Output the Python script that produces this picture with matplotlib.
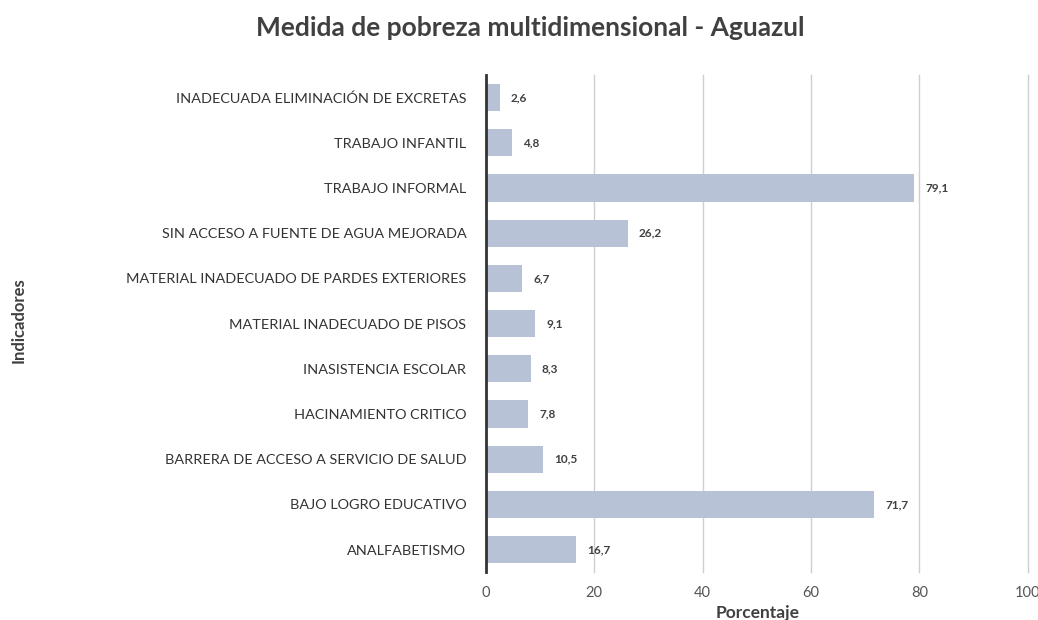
import matplotlib
matplotlib.use("Agg")
import matplotlib.pyplot as plt

categories = [
    "INADECUADA ELIMINACIÓN DE EXCRETAS",
    "TRABAJO INFANTIL",
    "TRABAJO INFORMAL",
    "SIN ACCESO A FUENTE DE AGUA MEJORADA",
    "MATERIAL INADECUADO DE PARDES EXTERIORES",
    "MATERIAL INADECUADO DE PISOS",
    "INASISTENCIA ESCOLAR",
    "HACINAMIENTO CRITICO",
    "BARRERA DE ACCESO A SERVICIO DE SALUD",
    "BAJO LOGRO EDUCATIVO",
    "ANALFABETISMO",
]
values = [2.6, 4.8, 79.1, 26.2, 6.7, 9.1, 8.3, 7.8, 10.5, 71.7, 16.7]
xticks = [0, 20, 40, 60, 80, 100]

plt.rcParams['font.family'] = ['Lato', 'DejaVu Sans']

fig = plt.figure(figsize=(10.38, 6.2), dpi=100)
ax = fig.add_axes([0.468, 0.077, 0.522, 0.802])

pos = list(range(len(categories)))
ax.barh(pos, values, height=0.6, color="#b8c2d6", zorder=2)
ax.set_ylim(len(categories) - 0.5, -0.5)
ax.set_yticks(pos)
ax.set_yticklabels(categories, fontsize=10.4, color="#333333")
ax.set_xlim(0, 100)
ax.set_xticks(xticks)
ax.set_xticklabels([str(t) for t in xticks], fontsize=10.5, color="#555555")
ax.tick_params(axis='y', length=0, pad=14)
ax.tick_params(axis='x', length=0, pad=10)
for t in xticks[1:]:
    ax.axvline(t, color="#cfcfcf", linewidth=1, zorder=0, clip_on=False)
for s in ['top', 'right', 'bottom']:
    ax.spines[s].set_visible(False)
ax.spines['left'].set_color("#333333")
ax.spines['left'].set_linewidth(2)
ax.spines['left'].set_zorder(3)

for p, v in zip(pos, values):
    ax.annotate(f"{v:.1f}".replace('.', ','), xy=(v, p), xytext=(8, 0),
                textcoords='offset points', ha='left', va='center',
                fontsize=8.5, fontweight='bold', color="#404040")

fig.text(0.511, 0.955, "Medida de pobreza multidimensional - Aguazul",
         ha='center', va='center', fontsize=19, fontweight='bold', color="#404040")
fig.text(0.73, 0.012, "Porcentaje", ha='center', va='center',
         fontsize=12.5, fontweight='bold', color="#404040")
fig.text(0.018, 0.484, "Indicadores", ha='center', va='center', rotation=90,
         fontsize=12, fontweight='bold', color="#404040")

fig.savefig("out.png", dpi=100)
